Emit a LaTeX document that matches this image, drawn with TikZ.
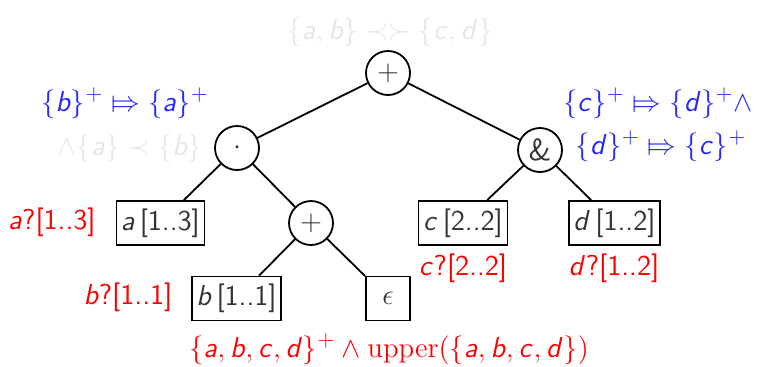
\documentclass[tikz,border=0pt]{standalone}
\usepackage{stmaryrd}
\DeclareSymbolFont{sfit}{OT1}{cmss}{m}{it}
\DeclareSymbolFont{sfup}{OT1}{cmss}{m}{n}
\DeclareMathSymbol{a}{\mathalpha}{sfit}{`a}
\DeclareMathSymbol{b}{\mathalpha}{sfit}{`b}
\DeclareMathSymbol{c}{\mathalpha}{sfit}{`c}
\DeclareMathSymbol{d}{\mathalpha}{sfit}{`d}
\DeclareMathSymbol{0}{\mathalpha}{sfup}{`0}
\DeclareMathSymbol{1}{\mathalpha}{sfup}{`1}
\DeclareMathSymbol{2}{\mathalpha}{sfup}{`2}
\DeclareMathSymbol{3}{\mathalpha}{sfup}{`3}
\DeclareMathSymbol{[}{\mathopen}{sfup}{`[}
\DeclareMathSymbol{]}{\mathclose}{sfup}{`]}
\DeclareMathSymbol{?}{\mathclose}{sfup}{`?}
\DeclareMathSymbol{.}{\mathord}{sfup}{`.}
\definecolor{myblue}{RGB}{38,38,255}
\definecolor{mygray}{RGB}{230,230,230}
\tikzset{
  every node/.style={font=\fontsize{15.3}{18}\selectfont},
  opnode/.style={draw, circle, line width=0.9pt, minimum size=22pt, inner sep=0pt, text=black!80},
  leafbox/.style={draw, rectangle, line width=0.9pt, minimum height=22pt, inner sep=2.3pt, text=black!80},
  redlbl/.style={text=red, inner sep=0pt},
  bluelbl/.style={text=myblue, inner sep=0pt},
  graylbl/.style={text=mygray, inner sep=0pt},
  edge/.style={line width=0.9pt}
}
\begin{document}
\begin{tikzpicture}[x=0.5pt, y=-0.5pt]
\useasboundingbox (0,0) rectangle (759,366);
% operator nodes
\node[opnode] (root) at (388,73) {$+$};
\node[opnode] (seq) at (237,148) {$\cdot$};
\node[opnode] (amp) at (540,150) {\textsf{\&}};
\node[opnode] (alt) at (311,223) {$+$};
% leaves
\node[leafbox] (la) at (160.5,223) {$a\,[1..3]$};
\node[leafbox] (lc) at (463,223) {$c\,[2..2]$};
\node[leafbox] (ld) at (614.5,223) {$d\,[1..2]$};
\node[leafbox] (lb) at (236.5,298.5) {$b\,[1..1]$};
\node[leafbox, minimum width=22pt] (le) at (388,298.5) {$\epsilon$};
% edges
\draw[edge] (root) -- (seq);
\draw[edge] (root) -- (amp);
\draw[edge] (seq) -- (la);
\draw[edge] (seq) -- (alt);
\draw[edge] (alt) -- (lb);
\draw[edge] (alt) -- (le);
\draw[edge] (amp) -- (lc);
\draw[edge] (amp) -- (ld);
% labels
\node[graylbl] (top) at (390,32) {$\{a,b\}\prec\succ\{c,d\}$};
\node[bluelbl] (bl1) at (125,103) {$\{b\}^+\Mapsto\{a\}^+$};
\node[graylbl] (gl1) at (130,148) {$\wedge\{a\}\prec\{b\}$};
\node[bluelbl] (br1) at (658,103) {$\{c\}^+\Mapsto\{d\}^+\wedge$};
\node[bluelbl] (br2) at (661,146) {$\{d\}^+\Mapsto\{c\}^+$};
\node[redlbl] (ra) at (52,222) {$a?[1..3]$};
\node[redlbl] (rb) at (128,297) {$b?[1..1]$};
\node[redlbl] (rc) at (463,268) {$c?[2..2]$};
\node[redlbl] (rd) at (614,268) {$d?[1..2]$};
\node[redlbl] (rbot) at (389,349) {$\{a,b,c,d\}^+\wedge\mathrm{upper}(\{a,b,c,d\})$};
\end{tikzpicture}
\end{document}
